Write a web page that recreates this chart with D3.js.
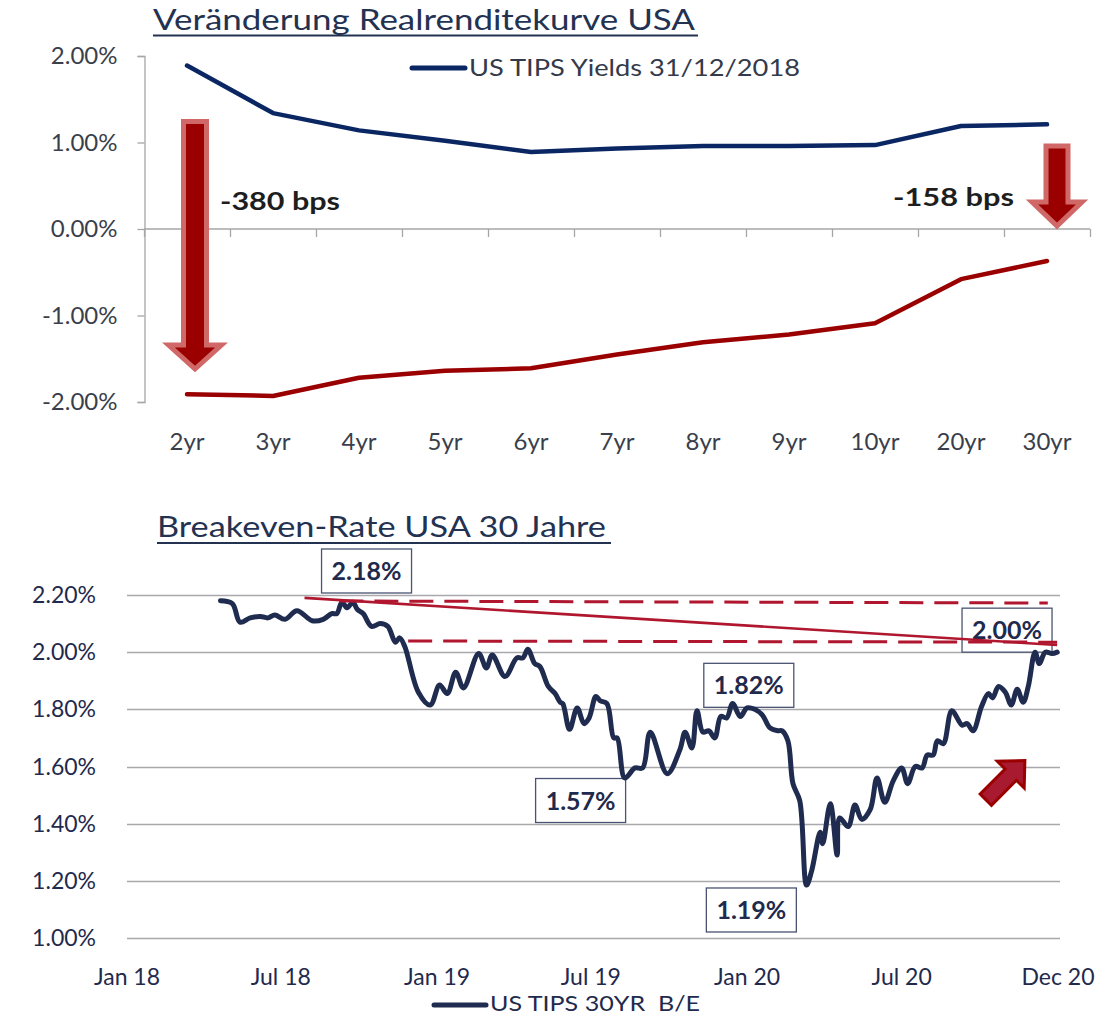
<!DOCTYPE html>
<html>
<head>
<meta charset="utf-8">
<script src="https://cdn.jsdelivr.net/npm/d3@7"></script>
<style>
  html, body { margin: 0; padding: 0; background: #ffffff; }
  svg { display: block; }
  text { font-family: Lato, "Open Sans", sans-serif; }
</style>
</head>
<body>
<svg id="chart" width="1110" height="1017"></svg>
<script>
// ---------------- DATA ----------------
// Top chart: real yield curve
const maturities = ["2yr", "3yr", "4yr", "5yr", "6yr", "7yr", "8yr", "9yr", "10yr", "20yr", "30yr"];
const yields2018 = [1.89, 1.34, 1.14, 1.02, 0.89, 0.93, 0.96, 0.96, 0.97, 1.19, 1.21];
const yieldsNow = [-1.91, -1.93, -1.72, -1.64, -1.61, -1.45, -1.31, -1.22, -1.09, -0.58, -0.37];
const topTicks = [-2, -1, 0, 1, 2];
const topTitle = "Veränderung Realrenditekurve USA";
const topLegend = "US TIPS Yields 31/12/2018";
const bpsLabels = ["-380 bps", "-158 bps"];

// Bottom chart: 30Y breakeven
const beDates = [
  "2018-04-21","2018-05-05","2018-05-14","2018-05-26","2018-06-07","2018-06-16","2018-06-24","2018-07-06",
  "2018-07-20","2018-08-07","2018-08-20","2018-08-30","2018-09-05","2018-09-11","2018-09-17","2018-09-24",
  "2018-09-29","2018-10-06","2018-10-16","2018-10-26","2018-11-04","2018-11-13","2018-11-18","2018-11-24",
  "2018-12-10","2018-12-24","2019-01-04","2019-01-13","2019-01-23","2019-02-01","2019-02-19","2019-02-28",
  "2019-03-07","2019-03-22","2019-04-05","2019-04-12","2019-04-18","2019-04-26","2019-05-02","2019-05-12",
  "2019-05-20","2019-05-26","2019-05-29","2019-06-06","2019-06-15","2019-06-23","2019-06-29","2019-07-07",
  "2019-07-12","2019-07-20","2019-07-28","2019-08-01","2019-08-10","2019-08-22","2019-08-31","2019-09-09",
  "2019-09-29","2019-10-14","2019-10-20","2019-10-28","2019-11-03","2019-11-10","2019-11-17","2019-11-24",
  "2019-12-01","2019-12-08","2019-12-15","2019-12-24","2020-01-01","2020-01-10","2020-01-19","2020-01-28",
  "2020-02-06","2020-02-11","2020-02-18","2020-02-24","2020-03-03","2020-03-11","2020-03-17","2020-03-27",
  "2020-03-30","2020-04-08","2020-04-16","2020-04-19","2020-04-29","2020-05-07","2020-05-15","2020-05-25",
  "2020-06-02","2020-06-11","2020-06-21","2020-07-01","2020-07-08","2020-07-17","2020-07-25","2020-07-31",
  "2020-08-07","2020-08-12","2020-08-19","2020-08-29","2020-09-10","2020-09-16","2020-09-23","2020-10-03",
  "2020-10-11","2020-10-16","2020-10-23","2020-10-31","2020-11-07","2020-11-14","2020-11-21","2020-11-27",
  "2020-12-05","2020-12-10","2020-12-17","2020-12-25","2020-12-31"
];
const beValues = [
  2.18, 2.17, 2.105, 2.12, 2.125, 2.12, 2.13, 2.115,
  2.145, 2.11, 2.115, 2.135, 2.135, 2.175, 2.155, 2.175,
  2.15, 2.135, 2.09, 2.10, 2.09, 2.035, 2.05, 2.02,
  1.86, 1.815, 1.885, 1.855, 1.93, 1.875, 1.995, 1.945,
  1.99, 1.915, 1.98, 1.98, 2.01, 1.96, 1.95, 1.88,
  1.855, 1.825, 1.82, 1.73, 1.805, 1.75, 1.77, 1.845,
  1.83, 1.82, 1.70, 1.70, 1.56, 1.595, 1.595, 1.72,
  1.575, 1.66, 1.72, 1.665, 1.795, 1.72, 1.725, 1.70,
  1.775, 1.77, 1.82, 1.775, 1.805, 1.80, 1.78, 1.735,
  1.725, 1.725, 1.69, 1.54, 1.48, 1.185, 1.235, 1.37,
  1.33, 1.47, 1.29, 1.42, 1.39, 1.465, 1.415, 1.45,
  1.56, 1.475, 1.55, 1.595, 1.54, 1.60, 1.595, 1.64,
  1.64, 1.69, 1.68, 1.795, 1.745, 1.75, 1.725, 1.81,
  1.855, 1.84, 1.88, 1.86, 1.815, 1.87, 1.825, 1.88,
  2.00, 1.96, 2.00, 1.995, 2.00
];
const bottomTicks = [1.0, 1.2, 1.4, 1.6, 1.8, 2.0, 2.2];
const monthTickDates = ["2018-01-01","2018-07-01","2019-01-01","2019-07-01","2020-01-01","2020-07-01","2021-01-01"];
const monthTickLabels = ["Jan 18","Jul 18","Jan 19","Jul 19","Jan 20","Jul 20","Dec 20"];
const bottomTitle = "Breakeven-Rate USA 30 Jahre";
const bottomLegend = "US TIPS 30YR  B/E";

// annotation lines (date, value)
const trendSolid = [["2018-07-29", 2.19], ["2020-12-31", 2.025]];
const rangeHigh = [["2018-09-08", 2.179], ["2020-12-20", 2.172]];
const rangeLow  = [["2018-11-28", 2.039], ["2020-12-31", 2.035]];
// callout labels: text, anchor date, anchor value (box centre)
const calloutTexts  = ["2.18%", "2.00%", "1.82%", "1.57%", "1.19%"];
const calloutDates  = ["2018-10-10", "2020-11-02", "2020-01-03", "2019-06-19", "2020-01-06"];
const calloutValues = [2.284, 2.077, 1.884, 1.481, 1.098];
// up arrow (tail -> tip)
const upArrow = [["2020-10-08", 1.484], ["2020-11-23", 1.621]];

// ---------------- DRAW ----------------
const parse = d3.timeParse("%Y-%m-%d");
const svg = d3.select("#chart");
const NAVY_TXT = "#1f2a4d";
const GRAY_TXT = "#3a3f4b";

// ====== TOP CHART ======
const xTop = d3.scaleBand().domain(maturities).range([144, 1090]).padding(0);
const xc = d => xTop(d) + xTop.bandwidth() / 2;
const yTop = d3.scaleLinear().domain([-2, 2]).range([402, 56]);

// title
svg.append("text").attr("x", 153).attr("y", 30)
  .attr("font-size", 28).attr("fill", "#243252")
  .attr("textLength", 542).attr("lengthAdjust", "spacingAndGlyphs").text(topTitle);
svg.append("line").attr("x1", 153).attr("x2", 698).attr("y1", 35.5).attr("y2", 35.5)
  .attr("stroke", "#243252").attr("stroke-width", 2);

// y axis
const yAxisTop = d3.axisLeft(yTop).tickValues(topTicks).tickSize(7).tickPadding(20)
  .tickFormat(d => d.toFixed(2) + "%");
const gy = svg.append("g").attr("transform", "translate(144.5,0)").call(yAxisTop);
gy.select(".domain").attr("stroke", "#a6a6a6").attr("stroke-width", 1.3);
gy.selectAll(".tick line").attr("stroke", "#a6a6a6").attr("stroke-width", 1.3);
gy.selectAll(".tick text").attr("font-size", 24).attr("fill", GRAY_TXT)
  .attr("font-family", "Lato, sans-serif");

// x axis line at zero
const x0 = yTop(0);
svg.append("line").attr("x1", 144).attr("x2", 1090).attr("y1", x0).attr("y2", x0)
  .attr("stroke", "#a6a6a6").attr("stroke-width", 1.3);
const boundaries = maturities.map(m => xTop(m)).concat([xTop(maturities[maturities.length - 1]) + xTop.bandwidth()]);
svg.selectAll(".xb").data(boundaries).enter().append("line")
  .attr("x1", d => d + 0.5).attr("x2", d => d + 0.5).attr("y1", x0).attr("y2", x0 + 8)
  .attr("stroke", "#a6a6a6").attr("stroke-width", 1.3);
svg.selectAll(".xl").data(maturities).enter().append("text")
  .attr("x", d => xc(d)).attr("y", 450).attr("text-anchor", "middle")
  .attr("font-size", 24).attr("fill", GRAY_TXT).text(d => d);

// lines
const lineTop = d3.line().x((d, i) => xc(maturities[i])).y(d => yTop(d));
svg.append("path").datum(yields2018).attr("d", lineTop).attr("fill", "none")
  .attr("stroke", "#0b2763").attr("stroke-width", 4.5).attr("stroke-linejoin", "round").attr("stroke-linecap", "round");
svg.append("path").datum(yieldsNow).attr("d", lineTop).attr("fill", "none")
  .attr("stroke", "#9a0000").attr("stroke-width", 4.5).attr("stroke-linejoin", "round").attr("stroke-linecap", "round");

// legend
svg.append("line").attr("x1", 412).attr("x2", 465).attr("y1", 68).attr("y2", 68)
  .attr("stroke", "#0b2763").attr("stroke-width", 5).attr("stroke-linecap", "round");
svg.append("text").attr("x", 469).attr("y", 76).attr("font-size", 24).attr("fill", "#333a4a")
  .attr("textLength", 331).attr("lengthAdjust", "spacingAndGlyphs").text(topLegend);

// down arrows
function downArrow(cx, top, headY, tip, sw, hw) {
  return `M${cx - sw},${top} L${cx + sw},${top} L${cx + sw},${headY} L${cx + hw},${headY} L${cx},${tip} L${cx - hw},${headY} L${cx - sw},${headY} Z`;
}
const cL = xc("2yr") + 8;
svg.append("path").attr("d", downArrow(cL, 121.5, 345, 369, 11.5, 26.5))
  .attr("fill", "#9a0000").attr("stroke", "#d06868").attr("stroke-width", 5).attr("stroke-linejoin", "miter");
const cR = xc("30yr") + 10;
svg.append("path").attr("d", downArrow(cR, 146, 202, 226, 11, 25))
  .attr("fill", "#9a0000").attr("stroke", "#d06868").attr("stroke-width", 5).attr("stroke-linejoin", "miter");

svg.append("text").attr("x", 220).attr("y", 210).attr("font-size", 25).attr("font-weight", "bold")
  .attr("fill", "#1e1e1e").attr("textLength", 120).attr("lengthAdjust", "spacingAndGlyphs").text(bpsLabels[0]);
svg.append("text").attr("x", 893).attr("y", 206).attr("font-size", 25).attr("font-weight", "bold")
  .attr("fill", "#1e1e1e").attr("textLength", 121).attr("lengthAdjust", "spacingAndGlyphs").text(bpsLabels[1]);

// ====== BOTTOM CHART ======
const xB = d3.scaleTime().domain([parse("2018-01-01"), parse("2021-01-01")]).range([127, 1058]);
const yB = d3.scaleLinear().domain([1.0, 2.2]).range([938, 595]);

svg.append("text").attr("x", 157).attr("y", 537).attr("font-size", 28).attr("fill", "#243252")
  .attr("textLength", 449).attr("lengthAdjust", "spacingAndGlyphs").text(bottomTitle);
svg.append("line").attr("x1", 157).attr("x2", 611).attr("y1", 543).attr("y2", 543)
  .attr("stroke", "#243252").attr("stroke-width", 2);

// gridlines
svg.selectAll(".grid").data(bottomTicks).enter().append("line")
  .attr("x1", 127).attr("x2", 1060).attr("y1", d => Math.round(yB(d)) + 0.5).attr("y2", d => Math.round(yB(d)) + 0.5)
  .attr("stroke", "#a9a9ad").attr("stroke-width", 1.6);
svg.selectAll(".ylab").data(bottomTicks).enter().append("text")
  .attr("x", 96).attr("y", d => yB(d) + 8).attr("text-anchor", "end")
  .attr("font-size", 23).attr("fill", NAVY_TXT).text(d => d.toFixed(2) + "%");

// x labels
svg.selectAll(".xlab").data(monthTickDates).enter().append("text")
  .attr("x", d => xB(parse(d))).attr("y", 985).attr("text-anchor", "middle")
  .attr("font-size", 23).attr("fill", NAVY_TXT).text((d, i) => monthTickLabels[i]);

// callout boxes (drawn under red lines)
const bw = 90, bh = 44;
const cg = svg.selectAll(".callout").data(calloutTexts).enter().append("g");
cg.append("rect")
  .attr("x", (d, i) => xB(parse(calloutDates[i])) - bw / 2)
  .attr("y", (d, i) => yB(calloutValues[i]) - bh / 2)
  .attr("width", bw).attr("height", bh)
  .attr("fill", "#ffffff").attr("stroke", "#4a5472").attr("stroke-width", 1.3);
cg.append("text")
  .attr("x", (d, i) => xB(parse(calloutDates[i])))
  .attr("y", (d, i) => yB(calloutValues[i]) + 9)
  .attr("text-anchor", "middle").attr("font-size", 25).attr("font-weight", "bold")
  .attr("fill", NAVY_TXT).text(d => d);

// breakeven line
const beData = beDates.map((d, i) => ({ date: parse(d), v: beValues[i] }));
const beLine = d3.line().x(d => xB(d.date)).y(d => yB(d.v)).curve(d3.curveCatmullRom.alpha(0.5));
svg.append("path").datum(beData).attr("d", beLine).attr("fill", "none")
  .attr("stroke", "#1f2b4f").attr("stroke-width", 5).attr("stroke-linejoin", "round").attr("stroke-linecap", "round");

// red annotation lines
const segLine = d3.line().x(d => xB(parse(d[0]))).y(d => yB(d[1]));
svg.append("path").datum(rangeHigh).attr("d", segLine).attr("stroke", "#b0172f").attr("stroke-width", 3)
  .attr("stroke-dasharray", "24,11").attr("fill", "none");
svg.append("path").datum(rangeLow).attr("d", segLine).attr("stroke", "#b0172f").attr("stroke-width", 3)
  .attr("stroke-dasharray", "24,11").attr("fill", "none");
svg.append("path").datum(trendSolid).attr("d", segLine).attr("stroke", "#b0172f").attr("stroke-width", 2.6)
  .attr("fill", "none");

// up-right arrow
(function () {
  const p0 = [xB(parse(upArrow[0][0])), yB(upArrow[0][1])];
  const p1 = [xB(parse(upArrow[1][0])), yB(upArrow[1][1])];
  const dx = p1[0] - p0[0], dy = p1[1] - p0[1];
  const L = Math.hypot(dx, dy);
  const ux = dx / L, uy = dy / L, nx = -uy, ny = ux;
  const sw = 8, hw = 19, hl = 20;
  const pt = (u, v) => [p0[0] + ux * u + nx * v, p0[1] + uy * u + ny * v];
  const pts = [pt(0, -sw), pt(L - hl, -sw), pt(L - hl, -hw), pt(L, 0), pt(L - hl, hw), pt(L - hl, sw), pt(0, sw)];
  svg.append("path").attr("d", "M" + pts.map(p => p.join(",")).join("L") + "Z")
    .attr("fill", "#a81a30").attr("stroke", "#9a0000").attr("stroke-width", 3).attr("stroke-linejoin", "miter");
})();

// bottom legend
svg.append("line").attr("x1", 434).attr("x2", 486).attr("y1", 1005).attr("y2", 1005)
  .attr("stroke", "#1f2b4f").attr("stroke-width", 5).attr("stroke-linecap", "round");
svg.append("text").attr("x", 490).attr("y", 1011).attr("font-size", 21).attr("fill", NAVY_TXT)
  .attr("textLength", 210).attr("lengthAdjust", "spacingAndGlyphs").attr("xml:space", "preserve").text(bottomLegend);
</script>
</body>
</html>
